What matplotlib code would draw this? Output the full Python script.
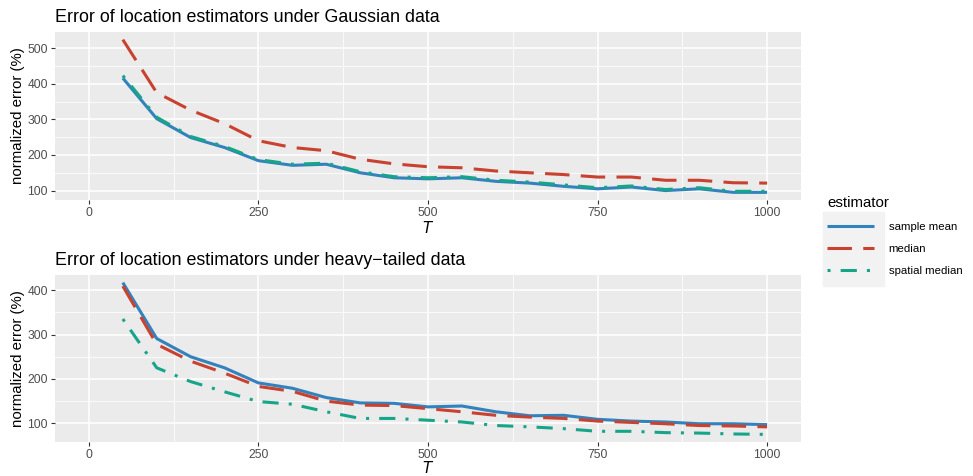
import numpy as np
import matplotlib.pyplot as plt

plt.rcParams['font.family'] = ['Liberation Sans', 'DejaVu Sans']

# sample sizes
T = [50, 100, 150, 200, 250, 300, 350, 400, 450, 500,
     550, 600, 650, 700, 750, 800, 850, 900, 950, 1000]

# Gaussian data
gauss_mean = [416, 302, 249, 221, 184, 171, 174, 150, 136, 133,
              136, 126, 121, 112, 105, 110, 100, 105, 95, 95]
gauss_median = [524, 375, 326, 288, 240, 221, 212, 188, 175, 167,
                164, 155, 150, 145, 138, 138, 129, 129, 122, 121]
gauss_spatial = [423, 306, 252, 224, 187, 174, 177, 153, 139, 136,
                 139, 129, 124, 116, 108, 113, 103, 108, 98, 98]

# heavy-tailed data
heavy_mean = [417, 291, 250, 225, 191, 179, 158, 146, 145, 137,
              139, 126, 117, 118, 109, 105, 103, 99, 99, 97]
heavy_median = [409, 278, 240, 213, 183, 172, 150, 141, 140, 133,
                126, 118, 114, 111, 105, 102, 99, 95, 94, 92]
heavy_spatial = [335, 225, 194, 171, 149, 143, 126, 111, 111, 107,
                 103, 95, 92, 88, 82, 82, 79, 78, 76, 75]

labels = ['sample mean', 'median', 'spatial median']
colors = ['#3182BD', '#C9412F', '#17A589']
styles = ['-', (0, (8, 3.7)), (0, (1, 3.3, 5.3, 3.3))]

fig = plt.figure(figsize=(9.73, 4.76), dpi=100)
ax1 = fig.add_axes([55/973, 1 - 200/476, 746/973, 168/476])
ax2 = fig.add_axes([55/973, 1 - 442/476, 746/973, 167/476])


def style_panel(ax, title, yticks, yminor, xpad):
    ax.set_facecolor('#EBEBEB')
    for s in ax.spines.values():
        s.set_visible(False)
    ax.set_xlim(-50, 1050)
    ax.set_xticks([0, 250, 500, 750, 1000])
    ax.set_xticks([125, 375, 625, 875], minor=True)
    ax.set_yticks(yticks)
    ax.set_yticks(yminor, minor=True)
    ax.grid(which='major', color='white', lw=1.1)
    ax.grid(which='minor', color='white', lw=0.55)
    ax.set_axisbelow(True)
    ax.tick_params(which='major', length=3, width=0.8, color='#333333',
                   labelsize=8.7, labelcolor='#4D4D4D', pad=2)
    ax.tick_params(which='minor', length=0)
    ax.set_xlabel('$T$', fontsize=10.8, labelpad=xpad)
    ax.set_ylabel('normalized error (%)', fontsize=10.8, labelpad=2)
    ax.set_title(title, loc='left', fontsize=12.9, pad=7)


series1 = [gauss_mean, gauss_median, gauss_spatial]
series2 = [heavy_mean, heavy_median, heavy_spatial]
handles = []
for vals1, vals2, lab, c, ls in zip(series1, series2, labels, colors, styles):
    h, = ax1.plot(T, vals1, color=c, lw=2.2, ls=ls, dash_capstyle='butt',
                  solid_capstyle='butt', label=lab)
    ax2.plot(T, vals2, color=c, lw=2.2, ls=ls, dash_capstyle='butt',
             solid_capstyle='butt')
    handles.append(h)

ax1.margins(y=0.05)
ax2.margins(y=0.05)
style_panel(ax1, 'Error of location estimators under Gaussian data',
            [100, 200, 300, 400, 500], [150, 250, 350, 450], 1)
style_panel(ax2, 'Error of location estimators under heavy\u2212tailed data',
            [100, 200, 300, 400], [150, 250, 350], -1)

leg = fig.legend(handles, labels, title='estimator', loc='upper left',
                 bbox_to_anchor=(818/973, 1 - 187/476), frameon=False,
                 fontsize=8.2, title_fontsize=10.8, handlelength=4.1,
                 handletextpad=1.3, labelspacing=1.05, borderpad=0.3)
leg._legend_box.align = 'left'
fig.patches.append(plt.Rectangle((823/973, 1 - 286/476), 61/973, 74/476,
                                 transform=fig.transFigure, color='#F2F2F2',
                                 zorder=-1))

fig.savefig('out.png', dpi=100)
